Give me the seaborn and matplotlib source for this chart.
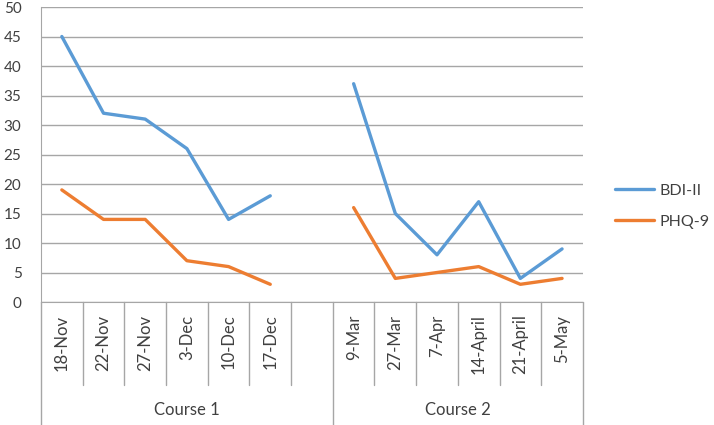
# depression scores over two courses, excel style line chart with grouped category axis

import matplotlib.pyplot as plt
import matplotlib.transforms as mtransforms
import numpy as np
import pandas as pd
import seaborn as sns

# data
course_1_dates = ['18-Nov', '22-Nov', '27-Nov', '3-Dec', '10-Dec', '17-Dec']
course_2_dates = ['9-Mar', '27-Mar', '7-Apr', '14-April', '21-April', '5-May']
bdi_course_1 = [45, 32, 31, 26, 14, 18]
bdi_course_2 = [37, 15, 8, 17, 4, 9]
phq_course_1 = [19, 14, 14, 7, 6, 3]
phq_course_2 = [16, 4, 5, 6, 3, 4]
course_names = ['Course 1', 'Course 2']
y_ticks = [0, 5, 10, 15, 20, 25, 30, 35, 40, 45, 50]

BLUE = '#5B9BD5'
ORANGE = '#ED7D31'
GRID = '#A6A6A6'

sns.set_style('white')
plt.rcParams['font.family'] = ['Lato', 'DejaVu Sans']

# category slots: course 1 dates, one empty slot, course 2 dates
labels = course_1_dates + [''] + course_2_dates
pos_1 = list(range(len(course_1_dates)))
pos_2 = list(range(len(course_1_dates) + 1, len(labels)))

rows = []
for course, pos, bdi, phq in [(course_names[0], pos_1, bdi_course_1, phq_course_1),
                              (course_names[1], pos_2, bdi_course_2, phq_course_2)]:
    for p, b, q in zip(pos, bdi, phq):
        rows.append({'x': p, 'score': b, 'measure': 'BDI-II', 'course': course})
        rows.append({'x': p, 'score': q, 'measure': 'PHQ-9', 'course': course})
df = pd.DataFrame(rows)

fig = plt.figure(figsize=(7.14, 4.25), dpi=100)
ax = fig.add_axes([0.0574, 0.2894, 0.759, 0.6941])

sns.lineplot(data=df, x='x', y='score', hue='measure', units='course', estimator=None,
             palette={'BDI-II': BLUE, 'PHQ-9': ORANGE}, linewidth=2.4, ax=ax)

ax.set_xlim(-0.5, len(labels) - 0.5)
ax.set_ylim(0, 50)
ax.set_yticks(y_ticks)
ax.set_yticklabels([str(t) for t in y_ticks], fontsize=11, color='#404040')
ax.set_xticks(range(len(labels)))
ax.set_xticklabels(labels, rotation=90, fontsize=12, color='#404040', va='top')
ax.tick_params(axis='x', length=0, pad=9)
ax.tick_params(axis='y', length=0, pad=14)
ax.grid(axis='y', color=GRID, linewidth=1)
ax.set_axisbelow(True)
ax.set_xlabel('')
ax.set_ylabel('')
for side in ['top', 'right']:
    ax.spines[side].set_visible(False)
ax.spines['left'].set_color(GRID)
ax.spines['bottom'].set_color(GRID)

# grouped category axis below the plot
trans = mtransforms.blended_transform_factory(ax.transData, ax.transAxes)
group_edges = [-0.5, len(course_1_dates) + 0.5, len(labels) - 0.5]
for i in range(len(labels) + 1):
    xe = i - 0.5
    bottom = -0.42 if xe in group_edges else -0.281
    ax.plot([xe, xe], [0, bottom], color=GRID, linewidth=1, transform=trans, clip_on=False)
group_spans = [(group_edges[0], group_edges[1]), (group_edges[1], group_edges[2])]
for name, (lo, hi) in zip(course_names, group_spans):
    ax.text((lo + hi) / 2, -0.365, name, transform=trans, ha='center', va='center',
            fontsize=12, color='#404040')

leg = ax.legend(loc='center left', bbox_to_anchor=(1.033, 0.325), frameon=False,
                fontsize=11.5, handlelength=2.4, labelspacing=1.05, handletextpad=0.35)
for text in leg.get_texts():
    text.set_color('#404040')

plt.savefig('out.png', dpi=100)
plt.close()
